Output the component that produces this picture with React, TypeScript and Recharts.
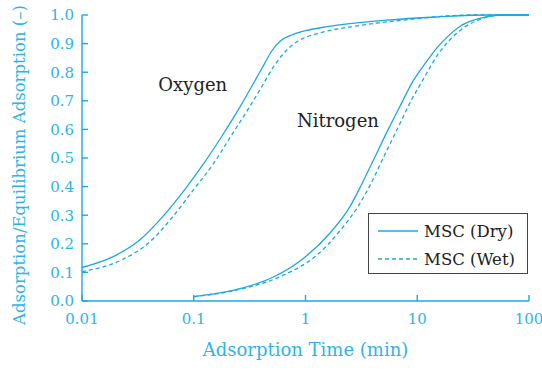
import { LineChart, Line, XAxis, YAxis, ReferenceDot } from "recharts";

const CYAN = "#1aa9e2";
const TICK = "#2db4e9";
const FONT = "DejaVu Serif, serif";

// adsorption time (min) and relative adsorption
const oxygenDryTime = [0.01, 0.019, 0.033, 0.053, 0.085, 0.12, 0.179, 0.25, 0.33, 0.43, 0.5, 0.6, 0.75, 1.0, 1.55, 3, 5.3, 15, 42, 100];
const oxygenDry = [0.117, 0.155, 0.214, 0.296, 0.395, 0.475, 0.577, 0.668, 0.75, 0.83, 0.875, 0.91, 0.93, 0.945, 0.959, 0.973, 0.982, 0.993, 1.0, 1.0];
const oxygenWetTime = [0.01, 0.023, 0.04, 0.065, 0.1, 0.15, 0.21, 0.3, 0.4, 0.52, 0.62, 0.75, 0.95, 1.3, 2.9, 7.5, 30, 100];
const oxygenWet = [0.103, 0.145, 0.205, 0.295, 0.39, 0.48, 0.57, 0.665, 0.745, 0.82, 0.86, 0.893, 0.918, 0.936, 0.962, 0.982, 1.0, 1.0];

const nitrogenDryTime = [0.1, 0.26, 0.51, 0.95, 1.65, 2.5, 3.2, 4.2, 5.5, 7.2, 9.1, 12, 15, 19, 24, 32, 45, 60, 100];
const nitrogenDry = [0.015, 0.043, 0.083, 0.148, 0.237, 0.33, 0.41, 0.505, 0.6, 0.69, 0.767, 0.835, 0.885, 0.927, 0.96, 0.982, 0.996, 1.0, 1.0];
const nitrogenWetTime = [0.1, 0.22, 0.63, 1.26, 2.03, 3, 3.9, 5.1, 6.7, 8.8, 11.5, 15.5, 20, 26, 35, 50, 65, 100];
const nitrogenWet = [0.015, 0.035, 0.09, 0.16, 0.245, 0.335, 0.415, 0.51, 0.605, 0.7, 0.78, 0.865, 0.917, 0.955, 0.982, 0.998, 1.0, 1.0];

const xTicks = [0.01, 0.1, 1, 10, 100];
const yTicks = [0, 0.1, 0.2, 0.3, 0.4, 0.5, 0.6, 0.7, 0.8, 0.9, 1.0];

const toRows = (t: number[], v: number[]) => t.map((x, i) => ({ t: x, v: v[i] }));

function YLabel() {
  return (
    <text
      x={19}
      y={165}
      transform="rotate(-90 19 165)"
      textAnchor="middle"
      dominantBaseline="central"
      fill={TICK}
      fontSize={16.5}
      fontFamily={FONT}
    >
      Adsorption/Equilibrium Adsorption (–)
    </text>
  );
}

function LegendBox() {
  const row = (dash: string | undefined, label: string) => (
    <div style={{ display: "flex", alignItems: "center", height: 28 }}>
      <svg width={40} height={10} style={{ marginLeft: 9, marginRight: 6 }}>
        <line x1={0} y1={5} x2={40} y2={5} stroke={CYAN} strokeWidth={1.4} strokeDasharray={dash} />
      </svg>
      <span style={{ fontFamily: FONT, fontSize: 16.5, color: "#222", whiteSpace: "nowrap" }}>{label}</span>
    </div>
  );
  return (
    <div
      style={{
        position: "absolute",
        left: 368,
        top: 213,
        width: 160,
        height: 61,
        boxSizing: "border-box",
        border: "1.5px solid #444",
        paddingTop: 3,
        background: "#fff",
      }}
    >
      {row(undefined, "MSC (Dry)")}
      {row("4 3", "MSC (Wet)")}
    </div>
  );
}

export default function App() {
  return (
    <div style={{ position: "absolute", left: 0, top: 0, width: 542, height: 373, background: "#fff" }}>
      <LineChart width={542} height={373} margin={{ top: 15, right: 13, bottom: 42, left: 20 }}>
        <XAxis
          dataKey="t"
          type="number"
          scale="log"
          domain={[0.01, 100]}
          ticks={xTicks}
          allowDataOverflow
          height={30}
          stroke={CYAN}
          strokeWidth={1.4}
          tickSize={-6}
          tickMargin={18}
          tick={{ fill: TICK, fontSize: 15, fontFamily: FONT }}
          tickFormatter={(v: number) => String(v)}
          label={{
            value: "Adsorption Time (min)",
            position: "bottom",
            offset: 12,
            fill: TICK,
            fontSize: 18,
            fontFamily: FONT,
          }}
        />
        <YAxis
          type="number"
          domain={[0, 1]}
          ticks={yTicks}
          width={62}
          stroke={CYAN}
          strokeWidth={1.4}
          tickSize={-6}
          tickMargin={14}
          tick={{ fill: TICK, fontSize: 15, fontFamily: FONT }}
          tickFormatter={(v: number) => v.toFixed(1)}
          label={<YLabel />}
        />
        <Line data={toRows(oxygenDryTime, oxygenDry)} dataKey="v" type="monotone" stroke={CYAN} strokeWidth={1.3} dot={false} isAnimationActive={false} />
        <Line data={toRows(oxygenWetTime, oxygenWet)} dataKey="v" type="monotone" stroke={CYAN} strokeWidth={1.3} strokeDasharray="4 3" dot={false} isAnimationActive={false} />
        <Line data={toRows(nitrogenDryTime, nitrogenDry)} dataKey="v" type="monotone" stroke={CYAN} strokeWidth={1.3} dot={false} isAnimationActive={false} />
        <Line data={toRows(nitrogenWetTime, nitrogenWet)} dataKey="v" type="monotone" stroke={CYAN} strokeWidth={1.3} strokeDasharray="4 3" dot={false} isAnimationActive={false} />
        <ReferenceDot
          x={0.098}
          y={0.758}
          r={0}
          label={{ value: "Oxygen", position: "center", fill: "#222", fontSize: 18, fontFamily: FONT }}
        />
        <ReferenceDot
          x={1.95}
          y={0.632}
          r={0}
          label={{ value: "Nitrogen", position: "center", fill: "#222", fontSize: 18, fontFamily: FONT }}
        />
      </LineChart>
      <LegendBox />
    </div>
  );
}
